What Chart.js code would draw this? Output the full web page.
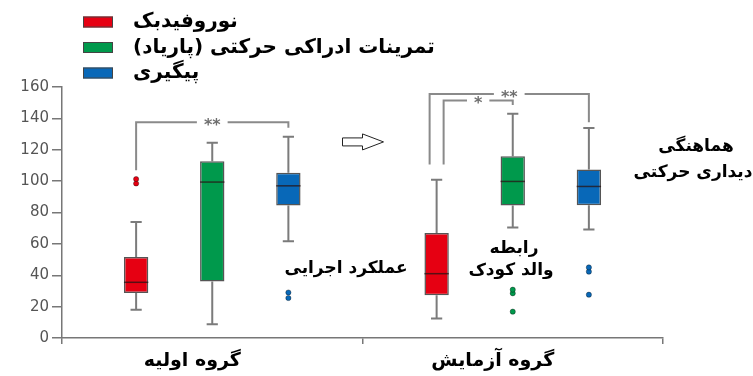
<!DOCTYPE html>
<html lang="fa">
<head>
<meta charset="utf-8">
<title>box plot</title>
<script src="https://cdn.jsdelivr.net/npm/chart.js@4.4.1/dist/chart.umd.min.js"></script>
<style>
  html, body { margin: 0; padding: 0; background: #fff; }
  #wrap { width: 753px; height: 376px; }
</style>
</head>
<body>
<div id="wrap"><canvas id="myChart"></canvas></div>
<script>
'use strict';

// groups along the x axis
const groups = ['گروه اولیه', 'گروه آزمایش'];

// treatments, one box per group
const seriesNames = ['نوروفیدبک', 'تمرینات ادراکی حرکتی (پاریاد)', 'پیگیری'];

// y axis ticks
const yTicks = [0, 20, 40, 60, 80, 100, 120, 140, 160];

// neurofeedback
const neuroMin = [18, 12.5];
const neuroQ1 = [28.7, 27.2];
const neuroMed = [35.5, 41];
const neuroQ3 = [51.6, 66.9];
const neuroMax = [74, 100.9];
const neuroOut = [[98.5, 101.3], []];

// perceptual motor training
const motorMin = [8.7, 70.5];
const motorQ1 = [36, 84.5];
const motorMed = [99.4, 99.8];
const motorQ3 = [112.7, 115.9];
const motorMax = [124.5, 142.9];
const motorOut = [[], [28.5, 30.8, 16.8]];

// follow up
const followMin = [61.6, 69.2];
const followQ1 = [84.5, 84.7];
const followMed = [97, 96.6];
const followQ3 = [105.3, 107.4];
const followMax = [128.3, 133.8];
const followOut = [[25.5, 29], [42.3, 45, 27.6]];

// significance brackets: group, first box, second box, bracket top, leg ends
const sigGroup = [0, 1, 1];
const sigFrom = [0, 0, 0];
const sigTo = [2, 2, 1];
const sigTop = [137.6, 155.6, 151.4];
const sigLeftEnd = [107, 110.6, 110.6];
const sigRightEnd = [134, 137.6, 148.5];
const sigMark = ['**', '**', '*'];

// measure names written beside the boxes
const measureNames = ['عملکرد اجرایی', 'رابطه', 'والد کودک', 'هماهنگی', 'دیداری حرکتی'];

const seriesColors = ['#e60012', '#00994c', '#0868b8'];
const stats = [
    { min: neuroMin, q1: neuroQ1, med: neuroMed, q3: neuroQ3, max: neuroMax, out: neuroOut },
    { min: motorMin, q1: motorQ1, med: motorMed, q3: motorQ3, max: motorMax, out: motorOut },
    { min: followMin, q1: followQ1, med: followMed, q3: followQ3, max: followMax, out: followOut }
];

const faFont = '"DejaVu Sans", sans-serif';

// whiskers go under the boxes
const whiskers = {
    id: 'whiskers',
    beforeDatasetsDraw(chart) {
        const ctx = chart.ctx;
        const y = chart.scales.y;
        ctx.save();
        ctx.strokeStyle = '#7b7b7b';
        ctx.lineWidth = 2;
        stats.forEach((s, i) => {
            chart.getDatasetMeta(i).data.forEach((bar, j) => {
                const cap = bar.width * 0.23;
                const top = y.getPixelForValue(s.max[j]);
                const bot = y.getPixelForValue(s.min[j]);
                ctx.beginPath();
                ctx.moveTo(bar.x, y.getPixelForValue(s.q3[j]));
                ctx.lineTo(bar.x, top);
                ctx.moveTo(bar.x - cap, top);
                ctx.lineTo(bar.x + cap, top);
                ctx.moveTo(bar.x, y.getPixelForValue(s.q1[j]));
                ctx.lineTo(bar.x, bot);
                ctx.moveTo(bar.x - cap, bot);
                ctx.lineTo(bar.x + cap, bot);
                ctx.stroke();
            });
        });
        ctx.restore();
    },
    afterDatasetsDraw(chart) {
        const ctx = chart.ctx;
        const y = chart.scales.y;
        ctx.save();
        stats.forEach((s, i) => {
            chart.getDatasetMeta(i).data.forEach((bar, j) => {
                // median
                const m = y.getPixelForValue(s.med[j]);
                ctx.strokeStyle = 'rgba(40,20,20,0.75)';
                ctx.lineWidth = 1.5;
                ctx.beginPath();
                ctx.moveTo(bar.x - bar.width / 2, m);
                ctx.lineTo(bar.x + bar.width / 2, m);
                ctx.stroke();
                // outliers
                s.out[j].forEach(v => {
                    ctx.beginPath();
                    ctx.arc(bar.x, y.getPixelForValue(v), 2.6, 0, Math.PI * 2);
                    ctx.fillStyle = seriesColors[i];
                    ctx.fill();
                    ctx.strokeStyle = 'rgba(0,0,0,0.35)';
                    ctx.lineWidth = 1;
                    ctx.stroke();
                });
            });
        });
        ctx.restore();
    }
};

// brackets with stars between boxes
const brackets = {
    id: 'brackets',
    afterDatasetsDraw(chart) {
        const ctx = chart.ctx;
        const y = chart.scales.y;
        ctx.save();
        ctx.strokeStyle = '#8a8a8a';
        ctx.fillStyle = '#6f6f6f';
        ctx.lineWidth = 2;
        ctx.font = 'bold 16px "DejaVu Sans", sans-serif';
        ctx.textAlign = 'center';
        ctx.textBaseline = 'alphabetic';
        sigGroup.forEach((g, k) => {
            const a = chart.getDatasetMeta(sigFrom[k]).data[g];
            const b = chart.getDatasetMeta(sigTo[k]).data[g];
            // spread legs that start on the same box
            let shared = 0, idx = 0;
            sigGroup.forEach((gg, m) => {
                if (gg === g && sigFrom[m] === sigFrom[k]) {
                    if (m < k) idx++;
                    shared++;
                }
            });
            const x1 = a.x + (shared > 1 ? (idx - (shared - 1) / 2) * 14 : 0);
            const x2 = b.x;
            const top = y.getPixelForValue(sigTop[k]);
            const mid = (x1 + x2) / 2;
            const tm = ctx.measureText(sigMark[k]);
            const gap = tm.width / 2 + 7;
            ctx.beginPath();
            ctx.moveTo(x1, y.getPixelForValue(sigLeftEnd[k]));
            ctx.lineTo(x1, top);
            ctx.lineTo(mid - gap, top);
            ctx.moveTo(mid + gap, top);
            ctx.lineTo(x2, top);
            ctx.lineTo(x2, y.getPixelForValue(sigRightEnd[k]));
            ctx.stroke();
            const asc = tm.actualBoundingBoxAscent, desc = tm.actualBoundingBoxDescent;
            ctx.fillText(sigMark[k], mid, top + (asc - desc) / 2);
        });
        ctx.restore();
    }
};

// legend, group names, measure names and the arrow
const extras = {
    id: 'extras',
    afterDraw(chart) {
        const ctx = chart.ctx;
        const xs = chart.scales.x;
        const y = chart.scales.y;
        ctx.save();

        // legend
        ctx.direction = 'rtl';
        ctx.textAlign = 'left';
        ctx.textBaseline = 'middle';
        ctx.font = 'bold 20px ' + faFont;
        seriesNames.forEach((name, i) => {
            const cy = 22 + i * 25.5;
            ctx.fillStyle = seriesColors[i];
            ctx.fillRect(83, cy - 5.5, 30, 11);
            ctx.strokeStyle = '#444';
            ctx.lineWidth = 1;
            ctx.strokeRect(83.5, cy - 5, 29, 10);
            ctx.fillStyle = '#000';
            ctx.fillText(name, 133, cy);
        });

        // group names under the axis
        ctx.textAlign = 'center';
        ctx.font = 'bold 19px ' + faFont;
        groups.forEach((g, i) => {
            ctx.fillText(g, xs.getPixelForValue(i) - 20, 361);
        });

        // measure names
        ctx.font = 'bold 17px ' + faFont;
        const notes = [[346, 269], [514, 249], [511, 271], [696, 147], [693, 173]];
        measureNames.forEach((t, i) => {
            ctx.fillText(t, notes[i][0], notes[i][1]);
        });

        // hollow arrow between the groups
        const ax = (xs.getPixelForValue(0) + xs.getPixelForValue(1)) / 2;
        const ay = y.getPixelForValue(125);
        ctx.strokeStyle = '#222';
        ctx.fillStyle = '#fff';
        ctx.lineWidth = 1;
        ctx.beginPath();
        ctx.moveTo(ax - 20, ay - 4);
        ctx.lineTo(ax, ay - 4);
        ctx.lineTo(ax, ay - 8);
        ctx.lineTo(ax + 21, ay);
        ctx.lineTo(ax, ay + 8);
        ctx.lineTo(ax, ay + 4);
        ctx.lineTo(ax - 20, ay + 4);
        ctx.closePath();
        ctx.fill();
        ctx.stroke();

        ctx.restore();
    }
};

const datasets = stats.map((s, i) => ({
    label: seriesNames[i],
    data: groups.map((g, j) => [s.q1[j], s.q3[j]]),
    backgroundColor: seriesColors[i],
    borderColor: '#555',
    borderWidth: 1.5,
    borderSkipped: false,
    categoryPercentage: 0.76,
    barPercentage: 0.32
}));

const myChart = new Chart(document.getElementById('myChart'), {
    type: 'bar',
    data: { labels: groups, datasets: datasets },
    options: {
        responsive: true,
        maintainAspectRatio: false,
        animation: false,
        layout: { padding: { top: 87, right: 90, left: 0, bottom: 0 } },
        plugins: { legend: { display: false }, tooltip: { enabled: false } },
        scales: {
            x: {
                grid: { offset: true, drawOnChartArea: false, drawTicks: true, tickLength: 6, color: '#777', lineWidth: 1.5 },
                border: { color: '#777', width: 1.5 },
                ticks: { display: false },
                afterFit(scale) { scale.height = 38; }
            },
            y: {
                min: 0,
                max: 160,
                afterBuildTicks(scale) { scale.ticks = yTicks.map(v => ({ value: v })); },
                grid: { drawOnChartArea: false, tickLength: 10, color: '#777', lineWidth: 1.5 },
                border: { color: '#777', width: 1.5 },
                ticks: {
                    padding: 3,
                    color: '#555',
                    font: { family: '"DejaVu Sans", sans-serif', size: 15 }
                },
                afterFit(scale) { scale.width = 62; }
            }
        }
    },
    plugins: [whiskers, brackets, extras]
});
</script>
</body>
</html>
